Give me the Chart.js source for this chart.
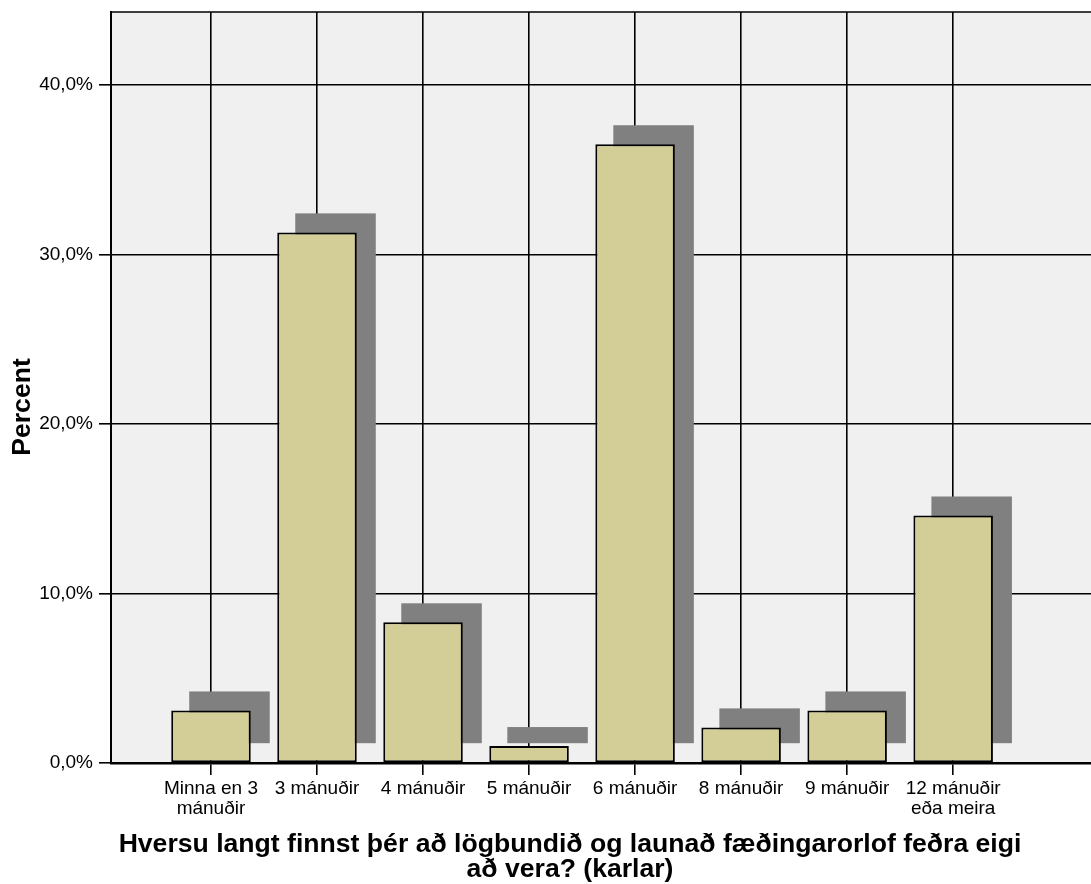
<!DOCTYPE html>
<html>
<head>
<meta charset="utf-8">
<script src="https://cdn.jsdelivr.net/npm/chart.js@4"></script>
<style>
html, body { margin: 0; padding: 0; background: #fff; }
</style>
</head>
<body>
<canvas id="BarChart" width="1091" height="884"></canvas>
<script>
const categories = [["Minna en 3", "mánuðir"], "3 mánuðir", "4 mánuðir", "5 mánuðir", "6 mánuðir", "8 mánuðir", "9 mánuðir", ["12 mánuðir", "eða meira"]];
const percents = [3.1, 31.3, 8.3, 1.0, 36.5, 2.1, 3.1, 14.6];
const yTicks = [0, 10, 20, 30, 40];
const xTitle = ["Hversu langt finnst þér að lögbundið og launað fæðingarorlof feðra eigi", "að vera? (karlar)"];
const yTitle = "Percent";

const FONT = '"Liberation Sans", Arial, sans-serif';

// grár bakgrunnur í teiknisvæðinu + lína efst
const plotBg = {
  id: 'plotBg',
  beforeDraw(chart) {
    const ctx = chart.ctx, a = chart.chartArea;
    ctx.save();
    ctx.fillStyle = '#f0f0f0';
    ctx.fillRect(a.left, a.top, a.right - a.left, a.bottom - a.top);
    ctx.strokeStyle = '#000';
    ctx.lineWidth = 1.5;
    ctx.beginPath();
    ctx.moveTo(a.left, a.top);
    ctx.lineTo(a.right, a.top);
    ctx.stroke();
    ctx.restore();
  }
};

// skuggi bak við súlurnar
const barShadow = {
  id: 'barShadow',
  beforeDatasetsDraw(chart) {
    const ctx = chart.ctx;
    ctx.save();
    ctx.fillStyle = '#808080';
    chart.getDatasetMeta(0).data.forEach(function(bar) {
      ctx.fillRect(bar.x - bar.width / 2 + 18, bar.y - 19, bar.width + 1, bar.base - bar.y);
    });
    ctx.restore();
  }
};

// ástitlar
const axisTitles = {
  id: 'axisTitles',
  afterDraw(chart) {
    const ctx = chart.ctx;
    ctx.save();
    ctx.fillStyle = '#000';
    ctx.font = 'bold 26.6px ' + FONT;
    ctx.textAlign = 'center';
    ctx.textBaseline = 'alphabetic';
    xTitle.forEach(function(line, i) {
      ctx.fillText(line, 570, 852 + i * 25);
    });
    ctx.translate(30, 407);
    ctx.rotate(-Math.PI / 2);
    ctx.fillText(yTitle, 0, 0);
    ctx.restore();
  }
};

new Chart(document.getElementById('BarChart'), {
  type: 'bar',
  data: {
    datasets: [{
      data: percents.map(function(v, i) { return {x: i + 1, y: v}; }),
      backgroundColor: '#d3ce97',
      borderColor: '#000',
      borderWidth: 2,
      borderSkipped: false,
      barPercentage: 0.75,
      categoryPercentage: 1
    }]
  },
  options: {
    responsive: false,
    animation: false,
    devicePixelRatio: 1,
    layout: { padding: { top: 12, left: 0, right: 0, bottom: 0 } },
    plugins: {
      legend: { display: false },
      tooltip: { enabled: false }
    },
    scales: {
      x: {
        type: 'linear',
        min: 0.057,
        max: 9.3,
        offset: false,
        afterBuildTicks: function(s) {
          s.ticks = categories.map(function(c, i) { return {value: i + 1}; });
        },
        afterFit: function(s) { s.height = 121; s.paddingLeft = 0; s.paddingRight = 0; },
        grid: { offset: false, color: '#000', lineWidth: 1.6, tickLength: 12, drawTicks: true },
        border: { display: true, color: '#000', width: 2.5 },
        ticks: {
          autoSkip: false,
          maxRotation: 0,
          color: '#000',
          padding: 4,
          font: { family: FONT, size: 19, lineHeight: 1.03 },
          callback: function(value) { return categories[value - 1]; }
        }
      },
      y: {
        min: 0,
        max: 44.3,
        afterBuildTicks: function(s) {
          s.ticks = yTicks.map(function(v) { return {value: v}; });
        },
        afterFit: function(s) { s.width = 111; s.paddingTop = 0; s.paddingBottom = 0; },
        grid: { color: '#000', lineWidth: 1.6, tickLength: 12, drawTicks: true },
        border: { display: true, color: '#000', width: 2 },
        ticks: {
          color: '#000',
          padding: 6,
          font: { family: FONT, size: 19 },
          callback: function(value) { return value.toFixed(1).replace('.', ',') + '%'; }
        }
      }
    }
  },
  plugins: [plotBg, barShadow, axisTitles]
});
</script>
</body>
</html>
